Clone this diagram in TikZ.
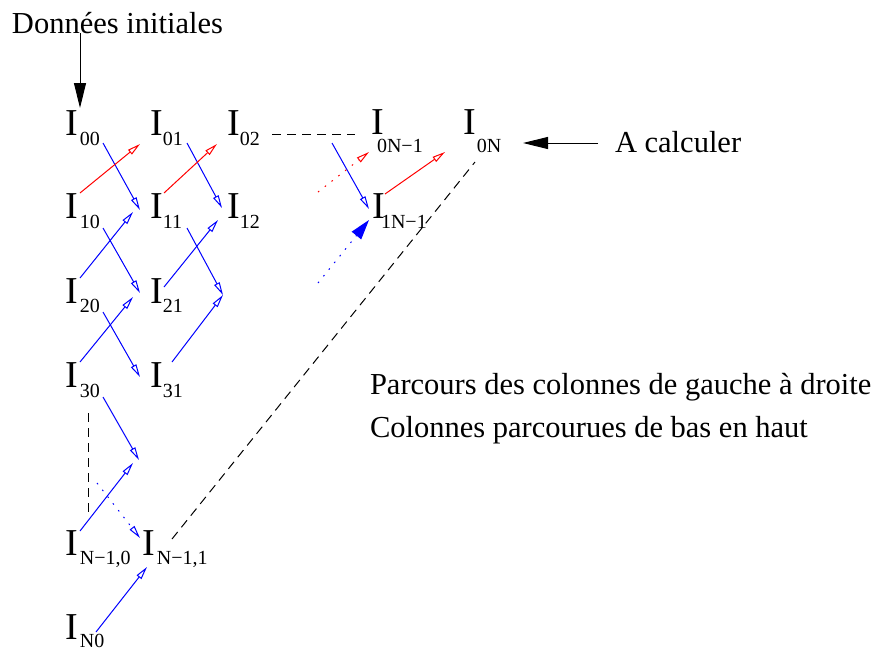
\documentclass[tikz,border=0pt]{standalone}
\usepackage{fontspec}
\setmainfont{Liberation Serif}
\usetikzlibrary{arrows.meta}
\newcommand\fontI{\fontsize{38}{40}\selectfont}
\newcommand\fontS{\fontsize{20}{22}\selectfont}
\newcommand\fontT{\fontsize{30.5}{34}\selectfont}
% I with subscript: #1 = horizontal gap, #2 = drop, #3 = subscript
\newcommand\Ilab[3]{{\fontI I}\hspace{#1}\raisebox{-#2}{\fontS #3}}
\definecolor{xblue}{RGB}{0,0,255}
\definecolor{xred}{RGB}{255,0,0}
\begin{document}
\begin{tikzpicture}[x=1pt,y=-1pt,
  lab/.style={inner sep=0pt,outer sep=0pt,anchor=base west},
  txt/.style={inner sep=0pt,outer sep=0pt,anchor=base west,font=\fontT},
  barrow/.style={draw=xblue,line width=1pt,-{Triangle[open,length=13pt,width=6pt]}},
  rarrow/.style={draw=xred,line width=1pt,-{Triangle[open,length=13pt,width=6pt]}},
  dotline/.style={dash pattern=on 1.6pt off 7pt},
  bigarrow/.style={draw=black,line width=1pt,-{Triangle[length=25pt,width=12pt]}},
  dashline/.style={draw=black,line width=1pt,dash pattern=on 9pt off 6pt}]
\useasboundingbox (0,0) rectangle (876,654);

% texts
\node[txt] (tdon) at (12,33) {Données initiales};
\node[txt] (tcalc) at (615,152) {A calculer};
\node[txt] (tpar1) at (370,394) {Parcours des colonnes de gauche à droite};
\node[txt] (tpar2) at (370,437) {Colonnes parcourues de bas en haut};

% I labels
\node[lab] (n00) at (65,135) {\Ilab{2.3pt}{10pt}{00}};
\node[lab] (n01) at (150,135) {\Ilab{0.3pt}{10pt}{01}};
\node[lab] (n02) at (227,135) {\Ilab{0.3pt}{10pt}{02}};
\node[lab] (n0Nm) at (371,134) {\Ilab{-6.6pt}{18pt}{0N−1}};
\node[lab] (n0N) at (463,134) {\Ilab{1.3pt}{18pt}{0N}};
\node[lab] (n10) at (65,218) {\Ilab{2.3pt}{10pt}{10}};
\node[lab] (n11) at (150,218) {\Ilab{0.3pt}{10pt}{11}};
\node[lab] (n12) at (227,218) {\Ilab{0.3pt}{10pt}{12}};
\node[lab] (n1Nm) at (372,218) {\Ilab{-3.6pt}{10pt}{1N−1}};
\node[lab] (n20) at (65,303) {\Ilab{2.3pt}{9pt}{20}};
\node[lab] (n21) at (150,303) {\Ilab{0.3pt}{9pt}{21}};
\node[lab] (n30) at (65,387) {\Ilab{2.3pt}{10pt}{30}};
\node[lab] (n31) at (150,387) {\Ilab{0.3pt}{10pt}{31}};
\node[lab] (nN10) at (65,555) {\Ilab{2.3pt}{9pt}{N−1,0}};
\node[lab] (nN11) at (142,555) {\Ilab{2.3pt}{9pt}{N−1,1}};
\node[lab] (nN0) at (65,639) {\Ilab{2.3pt}{8pt}{N0}};

% free ends
\coordinate (c22) at (223,295);
\coordinate (c40) at (139,460);
\coordinate (c41) at (133,463);
\coordinate (c42) at (97,483);
\coordinate (c43) at (88,515);
\coordinate (c44) at (355,134);
\coordinate (c45) at (332,143);
\coordinate (c46) at (318,192);
\coordinate (c47) at (318,283);

% black arrows
\draw[bigarrow] ([shift={(68,0)}]tdon.base west) -- ([shift={(15,-27)}]n00.base west);
\draw[bigarrow] ([shift={(-17,-9)}]tcalc.base west) -- ([shift={(60,9)}]n0N.base west);

% blue arrows
\draw[barrow] ([shift={(38,8)}]n00.base west) -- ([shift={(-10,-8)}]n11.base west);
\draw[barrow] ([shift={(37,8)}]n01.base west) -- ([shift={(-5,-10)}]n12.base west);
\draw[barrow] ([shift={(38,10)}]n10.base west) -- ([shift={(-10,-10)}]n21.base west);
\draw[barrow] ([shift={(15,-25)}]n20.base west) -- ([shift={(-17,-6)}]n11.base west);
\draw[barrow] ([shift={(37,10)}]n11.base west) -- (c22);
\draw[barrow] ([shift={(14,-16)}]n21.base west) -- ([shift={(-9,2)}]n12.base west);
\draw[barrow] ([shift={(38,9)}]n20.base west) -- ([shift={(-10,-10)}]n31.base west);
\draw[barrow] ([shift={(15,-25)}]n30.base west) -- ([shift={(-17,-6)}]n21.base west);
\draw[barrow] ([shift={(22,-25)}]n31.base west) -- (c22);
\draw[barrow] ([shift={(38,10)}]n30.base west) -- (c40);
\draw[barrow] ([shift={(15,-24)}]nN10.base west) -- (c41);
\draw[barrow,dotline] (c42) -- ([shift={(-2,-17)}]nN11.base west);
\draw[barrow] ([shift={(31,-7)}]nN0.base west) -- ([shift={(5,12)}]nN11.base west);
\draw[barrow] (c45) -- ([shift={(-3,-9)}]n1Nm.base west);
\draw[draw=xblue,line width=1pt,dotline,-{Triangle[length=20pt,width=12pt]}] (c47) -- ([shift={(-3,2)}]n1Nm.base west);

% red arrows
\draw[rarrow] ([shift={(15,-25)}]n10.base west) -- ([shift={(-10,9)}]n01.base west);
\draw[rarrow] ([shift={(14,-25)}]n11.base west) -- ([shift={(-10,9)}]n02.base west);
\draw[rarrow,dotline] (c46) -- ([shift={(-2,18)}]n0Nm.base west);
\draw[rarrow] ([shift={(13,-24)}]n1Nm.base west) -- ([shift={(-18,18)}]n0N.base west);

% dashed lines
\draw[dashline] ([shift={(23,26)}]n30.base west) -- (c43);
\draw[dashline] ([shift={(30,-16)}]nN11.base west) -- ([shift={(12,28)}]n0N.base west);
\draw[dashline] ([shift={(45,-1)}]n02.base west) -- (c44);
\end{tikzpicture}
\end{document}
